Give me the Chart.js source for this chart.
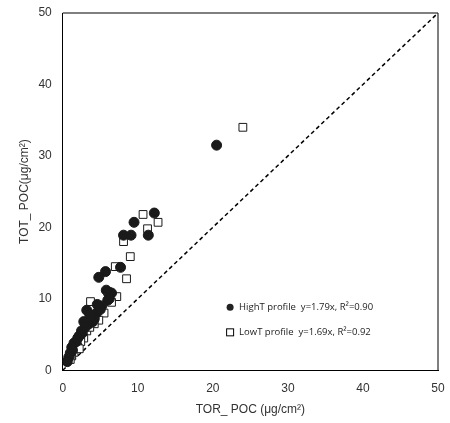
<!DOCTYPE html><html><head><script src="https://cdn.jsdelivr.net/npm/chart.js"></script>
<style>body{margin:0;background:#fff}#w{width:450px;height:423px}</style></head><body><div id="w"><canvas id="c"></canvas></div>
<script>
const highX=[20.5,12.2,11.4,9.5,8.1,9.1,7.7,5.7,4.8,6.5,6.0,5.2,5.8,4.5,3.8,3.2,3.5,2.8,2.5,2.2,1.8,1.5,1.2,1.0,0.8,2.0,3.0,4.2,5.0,6.2,4.0,2.6,1.3,0.6,3.6,4.6];
const highY=[31.5,22.0,18.9,20.7,18.9,18.9,14.4,13.8,13.0,10.8,9.8,9.0,11.2,8.0,7.5,8.4,6.5,6.8,5.5,4.8,4.0,3.8,3.2,2.4,1.8,4.5,6.0,7.2,8.5,10.0,6.8,5.2,2.8,1.2,7.8,9.2];
const lowX=[24.0,10.7,12.7,11.3,8.1,9.0,8.5,7.0,3.7,7.2,6.0,5.5,4.8,4.2,3.2,2.8,2.4,2.0,1.5,1.2,6.5,5.0,3.6,2.2,1.0];
const lowY=[34.0,21.8,20.7,19.8,18.0,15.9,12.8,14.5,9.6,10.3,11.0,8.0,7.0,6.5,5.5,4.5,4.0,3.2,2.5,2.0,9.5,8.8,6.0,3.0,1.5];
const lineX=[0,50], lineY=[0,50];
const ticks=[0,10,20,30,40,50];
const pts=(xs,ys)=>xs.map((x,i)=>({x,y:ys[i]}));
new Chart(document.getElementById('c'),{type:'scatter',data:{datasets:[
{label:'HighT profile  y=1.79x, R²=0.90',data:pts(highX,highY),pointStyle:'circle',radius:5,backgroundColor:'#1a1a1a',borderColor:'#1a1a1a'},
{label:'LowT profile  y=1.69x, R²=0.92',data:pts(lowX,lowY),pointStyle:'rect',radius:5.5,backgroundColor:'#fff',borderColor:'#1a1a1a',borderWidth:1},
{type:'line',label:'1:1',data:pts(lineX,lineY),borderColor:'#000',borderDash:[4,3],borderWidth:1.5,pointRadius:0,fill:false}
]},options:{responsive:true,maintainAspectRatio:false,animation:false,
layout:{padding:{top:13,right:12,left:13,bottom:2}},
plugins:{legend:{display:false}},
scales:{x:{min:0,max:50,afterBuildTicks:a=>{a.ticks=ticks.map(v=>({value:v}))},grid:{display:false,drawTicks:true},border:{color:'#000'},ticks:{color:'#333',font:{size:12}},title:{display:true,text:'TOR_ POC (μg/cm²)',color:'#333',font:{size:12}}},
y:{min:0,max:50,afterBuildTicks:a=>{a.ticks=ticks.map(v=>({value:v}))},grid:{display:false},border:{color:'#000'},ticks:{color:'#333',font:{size:12}},title:{display:true,text:'TOT_ POC(μg/cm²)',color:'#333',font:{size:12}}}}},
plugins:[{id:'box',afterDraw(c){const{ctx,chartArea:a,scales:{x,y}}=c;ctx.save();ctx.strokeStyle='#000';ctx.lineWidth=1;ctx.beginPath();ctx.moveTo(a.left,a.top);ctx.lineTo(a.right,a.top);ctx.lineTo(a.right,a.bottom);ctx.stroke();
ctx.font='9.5px "Open Sans", sans-serif';ctx.fillStyle='#222';ctx.textBaseline='middle';
const lx=x.getPixelForValue(22.3),ly1=y.getPixelForValue(8.8),ly2=y.getPixelForValue(5.3);
ctx.beginPath();ctx.arc(lx,ly1,3.5,0,2*Math.PI);ctx.fill();ctx.strokeRect(lx-3.5,ly2-3.5,7,7);
ctx.fillText('HighT profile  y=1.79x, R²=0.90',lx+9,ly1);ctx.fillText('LowT profile  y=1.69x, R²=0.92',lx+9,ly2);ctx.restore();}}]});
</script></body></html>
